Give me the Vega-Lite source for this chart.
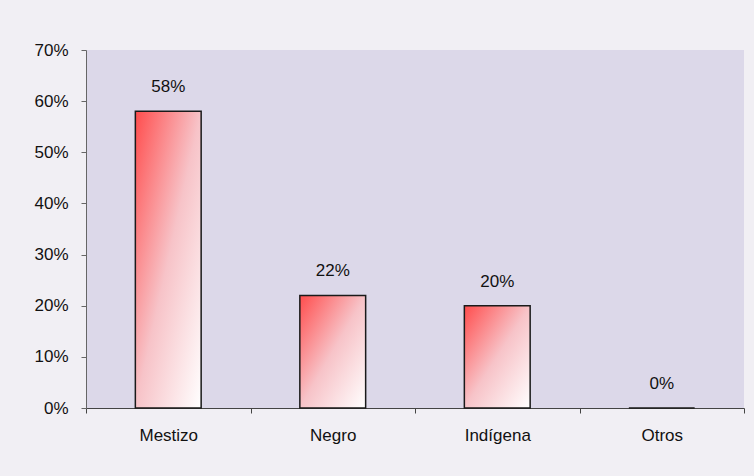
{
  "$schema": "https://vega.github.io/schema/vega-lite/v6.json",
  "autosize": "none",
  "width": 658,
  "height": 358,
  "padding": {"left": 86, "top": 50, "right": 10, "bottom": 68},
  "background": "#f1eff4",
  "view": {"fill": "#dcd8e9", "stroke": null},
  "data": {"values": [
    {"grupo": "Mestizo", "pct": 0.58},
    {"grupo": "Negro", "pct": 0.22},
    {"grupo": "Indígena", "pct": 0.20},
    {"grupo": "Otros", "pct": 0.0}
  ]},
  "encoding": {
    "x": {"field": "grupo", "type": "nominal", "sort": null,
      "scale": {"paddingInner": 0, "paddingOuter": 0},
      "axis": {"title": null, "labelAngle": 0, "labelFont": "Liberation Sans", "labelFontSize": 17, "labelColor": "#111", "labelPadding": 14, "tickBand": "extent", "tickSize": 5, "domainColor": "#444", "tickColor": "#444"}},
    "y": {"field": "pct", "type": "quantitative",
      "scale": {"domain": [0, 0.7]},
      "axis": {"title": null, "format": ".0%", "values": [0,0.1,0.2,0.3,0.4,0.5,0.6,0.7], "grid": false, "labelFont": "Liberation Sans", "labelFontSize": 17, "labelColor": "#111", "labelPadding": 13, "tickSize": 5, "domainColor": "#666", "tickColor": "#666"}}
  },
  "layer": [
    {"mark": {"type": "bar", "width": {"band": 0.4}, "stroke": "#1a1a1a", "strokeWidth": 1.5,
      "color": {"gradient": "linear", "x1": 0, "y1": 0, "x2": 1, "y2": 1,
        "stops": [{"offset": 0, "color": "#ff4d4d"}, {"offset": 0.5, "color": "#f7c3c8"}, {"offset": 1, "color": "#ffffff"}]}}},
    {"mark": {"type": "text", "dy": -24, "font": "Liberation Sans", "fontSize": 17, "color": "#111"},
      "encoding": {"text": {"field": "pct", "type": "quantitative", "format": ".0%"}}}
  ]
}
